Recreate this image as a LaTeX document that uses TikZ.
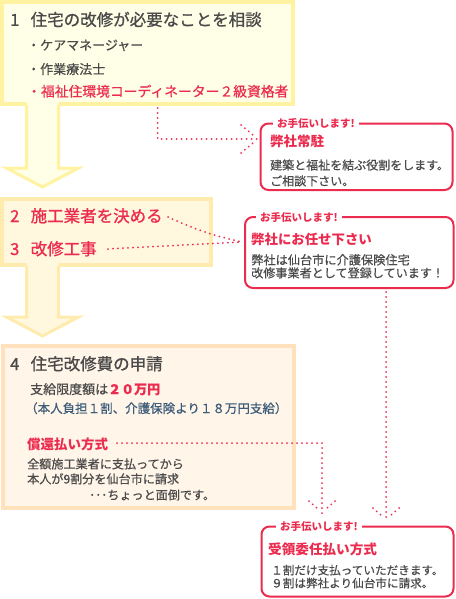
\documentclass[tikz,border=0pt]{standalone}
\usepackage{fontspec}
\setmainfont{Noto Sans CJK JP}
\newfontfamily\medf{Noto Sans CJK JP}[FakeBold=0.5]
\newfontfamily\headf{Noto Sans CJK JP}[FakeBold=1.0]
\definecolor{redc}{HTML}{EC2C4F}
\definecolor{txt}{HTML}{4A4A4A}
\definecolor{bluet}{HTML}{3D5C7A}
\definecolor{yfill}{HTML}{FFFEE6}
\definecolor{ydraw}{HTML}{FFF3A2}
\definecolor{y2fill}{HTML}{FFF7DE}
\definecolor{y2draw}{HTML}{FFEBAE}
\definecolor{ofill}{HTML}{FFF5E8}
\definecolor{odraw}{HTML}{FFE1BC}
\tikzset{
  txtnode/.style={inner sep=0pt, anchor=base west, text=txt},
  callout/.style={draw=redc, line width=2pt, rounded corners=8pt, fill=white},
  helplabel/.style={fill=white, inner xsep=4pt, inner ysep=1pt, text=redc, font=\fontsize{10.5}{12}\selectfont\bfseries, anchor=west},
  dots/.style={draw=redc, line width=2pt, line cap=round, dash pattern=on 0pt off 5pt},
}
\begin{document}
\begin{tikzpicture}[x=1pt,y=-1pt]
\useasboundingbox (0,0) rectangle (455,599);
% ---- box 1 and arrow 1
\draw[fill=yfill, draw=ydraw, line width=4pt] (2,2) rectangle (293,104);
\fill[yfill] (26.5,100) -- (26.5,168) -- (6.5,168) -- (42.5,187) -- (78.5,168) -- (58.5,168) -- (58.5,100) -- cycle;
\draw[draw=ydraw, line width=3pt, line join=miter] (26.5,105) -- (26.5,168) -- (6.5,168) -- (42.5,187) -- (78.5,168) -- (58.5,168) -- (58.5,105);
% ---- box 2 and arrow 2
\draw[fill=y2fill, draw=y2draw, line width=4pt] (2,199) rectangle (210.5,265);
\fill[y2fill] (26.5,261) -- (26.5,317) -- (6.5,317) -- (42.5,336) -- (78.5,317) -- (58.5,317) -- (58.5,261) -- cycle;
\draw[draw=y2draw, line width=3pt, line join=miter] (26.5,266) -- (26.5,317) -- (6.5,317) -- (42.5,336) -- (78.5,317) -- (58.5,317) -- (58.5,266);
% ---- box 4
\draw[fill=ofill, draw=odraw, line width=4pt] (3,346) rectangle (294,508);

% ---- texts box 1
\node[txtnode, font=\headf\fontsize{16.5}{18}\selectfont] (h1) at (10,25.8) {\makebox[20.5pt][l]{1}住宅の改修が必要なことを相談};
\node[txtnode, font=\medf\fontsize{13}{15}\selectfont] (b1) at (27,50) {・ケアマネージャー};
\node[txtnode, font=\medf\fontsize{13}{15}\selectfont] (b2) at (27,74) {・作業療法士};
\node[txtnode, text=redc, font=\medf\fontsize{13.8}{15}\selectfont] (b3) at (27,96.5) {・福祉住環境コーディネーター２級資格者};
% ---- texts box 2
\node[txtnode, text=redc, font=\headf\fontsize{16.5}{18}\selectfont] (h2) at (10,222) {\makebox[20.5pt][l]{2}施工業者を決める};
\node[txtnode, text=redc, font=\headf\fontsize{16.5}{18}\selectfont] (h3) at (10,255) {\makebox[20.5pt][l]{3}改修工事};
% ---- texts box 4
\node[txtnode, font=\headf\fontsize{16.5}{18}\selectfont] (h4) at (10,370) {\makebox[20.5pt][l]{4}住宅改修費の申請};
\node[txtnode, font=\medf\fontsize{13}{15}\selectfont] (lim) at (30,394) {支給限度額は{\color{redc}\bfseries ２０万円}};
\node[txtnode, text=bluet, font=\medf\fontsize{12.5}{15}\selectfont] (lim2) at (25,413) {（本人負担１割、介護保険より１８万円支給）};
\node[txtnode, text=redc, font=\fontsize{13.5}{15}\selectfont\bfseries] (shokan) at (27,449) {償還払い方式};
\node[txtnode, font=\medf\fontsize{12.1}{15}\selectfont] (s1) at (27,468.5) {全額施工業者に支払ってから};
\node[txtnode, font=\medf\fontsize{12.1}{15}\selectfont] (s2) at (27,483.5) {本人が9割分を仙台市に請求};
\node[txtnode, font=\medf\fontsize{12.1}{15}\selectfont] (s3) at (89,499.5) {･･･ちょっと面倒です。};

% ---- callout A
\draw[callout] (260.5,123.5) rectangle (452.5,190);
\node[helplabel] (la) at (273,123.5) {お手伝いします!};
\node[txtnode, text=redc, font=\fontsize{13.5}{15}\selectfont\bfseries] (ta) at (270,146.5) {弊社常駐};
\node[txtnode, font=\medf\fontsize{12}{14}\selectfont] (a1) at (270,169.6) {建築と福祉を結ぶ役割をします。};
\node[txtnode, font=\medf\fontsize{12}{14}\selectfont] (a2) at (270,185.5) {ご相談下さい。};
% ---- callout B
\draw[callout] (245,217) rectangle (453.5,288);
\node[helplabel] (lb) at (256,217) {お手伝いします!};
\node[txtnode, text=redc, font=\fontsize{13.4}{15}\selectfont\bfseries] (tb) at (251,244) {弊社にお任せ下さい};
\node[txtnode, font=\medf\fontsize{12.2}{14}\selectfont] (b1c) at (251,264.5) {弊社は仙台市に介護保険住宅};
\node[txtnode, font=\medf\fontsize{12.1}{14}\selectfont] (b2c) at (251,277.5) {改修事業者として登録しています！};
% ---- callout C
\draw[callout] (261.5,526.5) rectangle (453.5,596.5);
\node[helplabel] (lc) at (276,526.5) {お手伝いします!};
\node[txtnode, text=redc, font=\fontsize{13.6}{15}\selectfont\bfseries] (tc) at (268,554) {受領委任払い方式};
\node[txtnode, font=\medf\fontsize{11.6}{14}\selectfont] (c1) at (271,574.5) {１割だけ支払っていただきます。};
\node[txtnode, font=\medf\fontsize{11.6}{14}\selectfont] (c2) at (271,587.5) {９割は弊社より仙台市に請求。};

% ---- connectors
\coordinate (k1) at (157.5,108);
\coordinate (k1b) at (157.5,139);
\coordinate (k1e) at (257,139);
\draw[dots] (k1) -- (k1b) -- (k1e);
\draw[dots] (241,125) -- (253,135);
\draw[dots] (241,153) -- (253,143);

\coordinate (k2a) at (168,217);
\coordinate (k2b) at (108,249);
\coordinate (k2e) at (242,242);
\draw[dots] (k2a) to[bend right=6] (k2e);
\draw[dots] (k2b) -- (k2e);

\coordinate (k3a) at (386,292);
\coordinate (k3e) at (386,521);
\draw[dots] (k3a) -- (k3e);
\draw[dots] (373,508) -- (382,516);
\draw[dots] (399,508) -- (390,516);

\coordinate (k4a) at (117,443);
\coordinate (k4b) at (322,443);
\coordinate (k4e) at (322,517);
\draw[dots] (k4a) -- (k4b) -- (k4e);
\draw[dots] (309,501) -- (318,509);
\draw[dots] (335,501) -- (326,509);
\end{tikzpicture}
\end{document}
